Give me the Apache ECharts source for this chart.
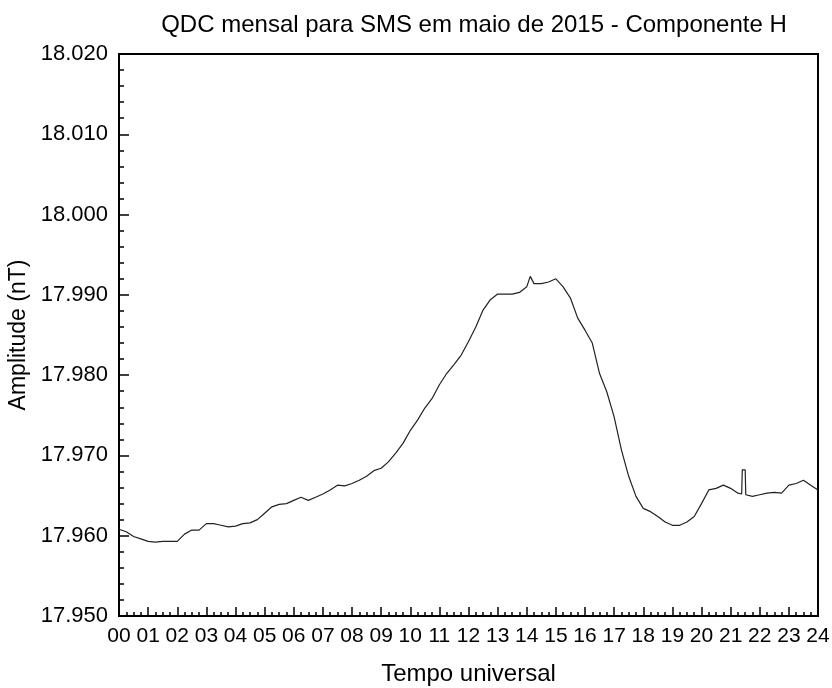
<!DOCTYPE html>
<html>
<head>
    <meta charset="utf-8">
    <title>QDC mensal SMS</title>
    <script src="https://cdn.jsdelivr.net/npm/echarts@6/dist/echarts.min.js"></script>
    <style>
        html, body { margin: 0; padding: 0; background: #fff; }
        #chart { width: 832px; height: 688px; }
    </style>
</head>
<body>
<div id="chart"></div>
<script>
    // tempo universal (horas) e componente H (nT, em milhares)
    var hours = [
        0, 0.25, 0.5, 0.75, 1, 1.25, 1.5, 1.75, 2, 2.25, 2.5, 2.75,
        3, 3.25, 3.5, 3.75, 4, 4.25, 4.5, 4.75, 5, 5.25, 5.5, 5.75,
        6, 6.25, 6.5, 6.75, 7, 7.25, 7.5, 7.75, 8, 8.25, 8.5, 8.75,
        9, 9.25, 9.5, 9.75, 10, 10.25, 10.5, 10.75, 11, 11.25, 11.5, 11.75,
        12, 12.25, 12.5, 12.75, 13, 13.25, 13.5, 13.75, 14, 14.12, 14.25, 14.5, 14.75,
        15, 15.25, 15.5, 15.75, 16, 16.25, 16.5, 16.75, 17, 17.25, 17.5, 17.75,
        18, 18.25, 18.5, 18.75, 19, 19.25, 19.5, 19.75, 20, 20.25, 20.5, 20.75,
        21, 21.25, 21.38, 21.4, 21.5, 21.52, 21.75, 22, 22.25, 22.5, 22.75,
        23, 23.25, 23.5, 23.75, 24
    ];
    var hValues = [
        17.9608, 17.9605, 17.9599, 17.9596, 17.9593, 17.9592, 17.9593, 17.9593, 17.9593, 17.9602, 17.9607, 17.9607,
        17.9615, 17.9615, 17.9613, 17.9611, 17.9612, 17.9615, 17.9616, 17.9620, 17.9628, 17.9636, 17.9639, 17.9640,
        17.9644, 17.9648, 17.9644, 17.9648, 17.9652, 17.9657, 17.9663, 17.9662, 17.9665, 17.9669, 17.9674, 17.9681,
        17.9684, 17.9692, 17.9703, 17.9715, 17.9731, 17.9744, 17.9759, 17.9771, 17.9788, 17.9802, 17.9813, 17.9825,
        17.9842, 17.9860, 17.9881, 17.9894, 17.9901, 17.9901, 17.9901, 17.9903, 17.9910, 17.9923, 17.9914, 17.9914, 17.9916,
        17.9920, 17.9910, 17.9896, 17.9871, 17.9856, 17.9840, 17.9802, 17.9779, 17.9748, 17.9707, 17.9674, 17.9649,
        17.9634, 17.9630, 17.9624, 17.9617, 17.9613, 17.9613, 17.9617, 17.9624, 17.9640, 17.9657, 17.9659, 17.9663,
        17.9659, 17.9653, 17.9652, 17.9682, 17.9682, 17.9651, 17.9649, 17.9651, 17.9653, 17.9654, 17.9653,
        17.9663, 17.9665, 17.9669, 17.9663, 17.9657
    ];

    var seriesData = [];
    for (var i = 0; i < hours.length; i++) {
        seriesData.push([hours[i], hValues[i]]);
    }

    var chart = echarts.init(document.getElementById('chart'));
    var font = 'Liberation Sans, Arial, sans-serif';
    var option = {
        animation: false,
        backgroundColor: '#fff',
        title: {
            text: 'QDC mensal para SMS em maio de 2015 - Componente H',
            left: 469,
            top: 8,
            textAlign: 'center',
            textStyle: { fontFamily: font, fontSize: 24, fontWeight: 'normal', color: '#000' }
        },
        grid: {
            left: 119,
            right: 14,
            top: 54,
            bottom: 72,
            containLabel: false,
            outerBoundsMode: 'none',
            show: true,
            borderColor: '#000',
            borderWidth: 2,
            backgroundColor: '#fff'
        },
        xAxis: {
            type: 'value',
            min: 0,
            max: 24,
            interval: 1,
            name: 'Tempo universal',
            nameLocation: 'middle',
            nameGap: 46,
            nameTextStyle: { fontFamily: font, fontSize: 24, color: '#000' },
            axisLine: { lineStyle: { color: '#000', width: 2 } },
            axisTick: { inside: true, length: 9, lineStyle: { color: '#000', width: 1.5 } },
            minorTick: { show: true, splitNumber: 4, length: 4, lineStyle: { color: '#000', width: 1.5 } },
            splitLine: { show: false },
            axisLabel: {
                margin: 10,
                fontFamily: font,
                fontSize: 21,
                color: '#000',
                formatter: function (v) { return (v < 10 ? '0' : '') + v; }
            }
        },
        yAxis: {
            type: 'value',
            min: 17.95,
            max: 18.02,
            interval: 0.01,
            name: 'Amplitude (nT)',
            nameLocation: 'middle',
            nameGap: 83,
            nameTextStyle: { fontFamily: font, fontSize: 23, color: '#000' },
            axisLine: { lineStyle: { color: '#000', width: 2 } },
            axisTick: { inside: true, length: 10, lineStyle: { color: '#000', width: 1.5 } },
            minorTick: { show: true, splitNumber: 5, length: 5, lineStyle: { color: '#000', width: 1.5 } },
            splitLine: { show: false },
            axisLabel: {
                margin: 11,
                fontFamily: font,
                fontSize: 22,
                color: '#000',
                formatter: function (v) { return v.toFixed(3); }
            }
        },
        series: [{
            type: 'line',
            data: seriesData,
            showSymbol: false,
            lineStyle: { color: '#222', width: 1.2 }
        }]
    };
    chart.setOption(option);
</script>
</body>
</html>
